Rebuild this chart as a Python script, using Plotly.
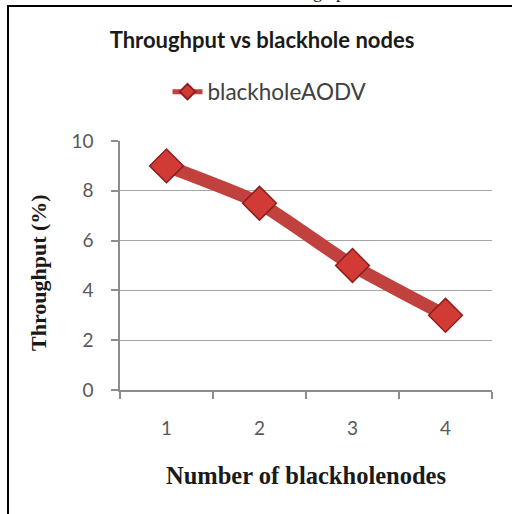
import plotly.graph_objects as go

# Data
categories = ["1", "2", "3", "4"]
throughput = [9, 7.5, 5, 3]
series_name = "blackholeAODV"
title_text = "Throughput vs blackhole nodes"
x_title = "Number of blackholenodes"
y_title = "Throughput (%)"
y_ticks = [0, 2, 4, 6, 8, 10]

W, H = 512, 514
ML, MR, MT, MB = 120, 20, 141, 124
PW = W - ML - MR
PH = H - MT - MB

def px_x(p):
    return (p - ML) / PW

def px_y(p):
    return (H - MB - p) / PH

fig = go.Figure()
fig.add_trace(go.Scatter(
    x=categories, y=throughput, name=series_name,
    mode="lines+markers",
    line=dict(color="#C0413D", width=13, shape="spline", smoothing=0.5),
    marker=dict(symbol="diamond", size=26, color="#D23A36",
                line=dict(color="#8E1E1C", width=1.5)),
))

axis_gray = "#8C8C8C"
tick_font = dict(family="Lato, Open Sans, sans-serif", size=19, color="#595959")

fig.update_layout(
    width=W, height=H,
    margin=dict(l=ML, r=MR, t=MT, b=MB),
    paper_bgcolor="white", plot_bgcolor="white",
    title=dict(text=title_text, x=262 / W, xanchor="center",
               y=1 - 40 / H, yanchor="middle", yref="container",
               font=dict(family="Lato, sans-serif", size=22, color="#1a1a1a", weight="bold")),
    showlegend=True,
    legend=dict(x=px_x(270), xanchor="center", y=px_y(92), yanchor="middle",
                orientation="h", itemsizing="constant",
                font=dict(family="Lato, sans-serif", size=22.5, color="#404040"),
                bgcolor="rgba(0,0,0,0)"),
    xaxis=dict(type="category", categoryorder="array", categoryarray=categories,
               range=[-0.5, len(categories) - 0.5],
               showline=True, linecolor=axis_gray, linewidth=1.5,
               ticks="outside", tickson="boundaries", ticklen=7, tickcolor=axis_gray,
               tickwidth=1.5, showgrid=False, tickfont=tick_font,
               ticklabelstandoff=20, zeroline=False, fixedrange=True),
    yaxis=dict(range=[0, 10], tickvals=y_ticks, showline=True, linecolor=axis_gray,
               linewidth=1.5, ticks="outside", ticklen=7, tickcolor=axis_gray,
               tickwidth=1.5, showgrid=True, gridcolor="#A6A6A6", gridwidth=1.2,
               tickfont=tick_font, ticklabelstandoff=14, zeroline=False, fixedrange=True),
)

serif_bold = dict(family="Liberation Serif, Times New Roman, serif", size=22,
                  color="#1a1a1a", weight="bold")
fig.add_annotation(text=x_title, xref="paper", yref="paper", x=px_x(306), y=px_y(475),
                   xanchor="center", yanchor="middle", showarrow=False,
                   font=dict(serif_bold, size=24.5))
fig.add_annotation(text=y_title, xref="paper", yref="paper", x=px_x(38), y=px_y(273),
                   xanchor="center", yanchor="middle", showarrow=False, textangle=-90,
                   font=serif_bold)
# clipped text of the surrounding document above the figure
fig.add_annotation(text="graph", xref="paper", yref="paper", x=px_x(333), y=px_y(-8),
                   xanchor="center", yanchor="middle", showarrow=False,
                   font=dict(family="Liberation Serif, serif", size=18, color="#111"))

# frame around the figure
fig.add_shape(type="rect", xref="paper", yref="paper",
              x0=px_x(8), x1=px_x(620), y0=px_y(620), y1=px_y(6),
              line=dict(color="black", width=2), fillcolor="rgba(0,0,0,0)", layer="below")

fig.write_html("out.html", config={"displayModeBar": False},
               post_script="document.body.style.margin='0';document.body.style.overflow='hidden';")
